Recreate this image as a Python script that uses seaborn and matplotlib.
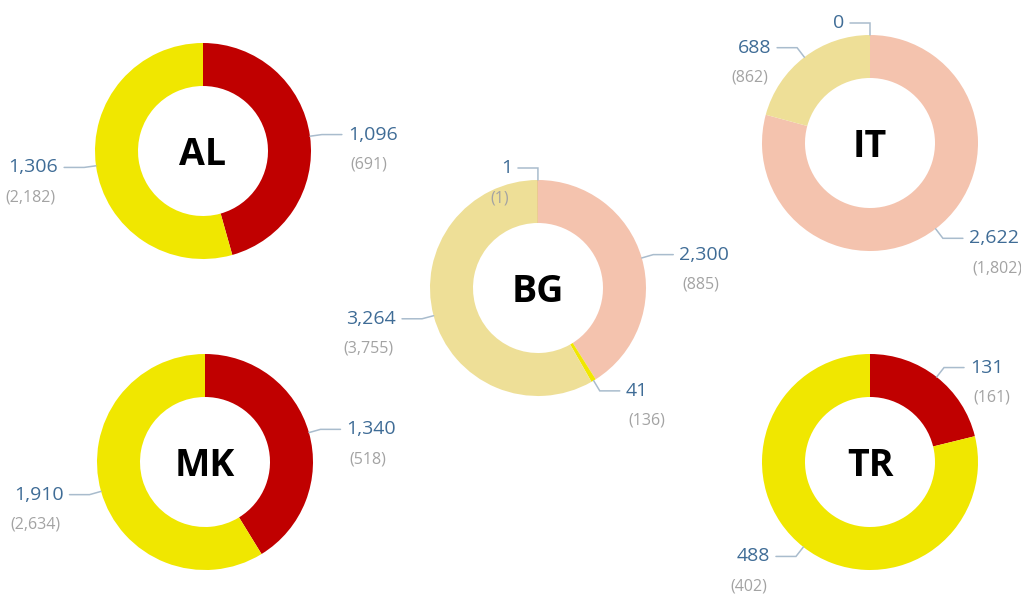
import numpy as np
import matplotlib
matplotlib.use("Agg")
import seaborn as sns
from matplotlib import pyplot as plt

# data: current value and (previous value) per slice,
# slices listed clockwise from 12 o'clock
countries = ["AL", "MK", "BG", "IT", "TR"]
al_values = [1096, 1306]
al_previous = [691, 2182]
mk_values = [1340, 1910]
mk_previous = [518, 2634]
bg_values = [2300, 41, 3264, 1]
bg_previous = [885, 136, 3755, 1]
it_values = [2622, 688, 0]
it_previous = [1802, 862, None]
tr_values = [131, 488]
tr_previous = [161, 402]

# colours
red = "#C00000"
yellow = "#F0E700"
pink = "#F4C3AE"
khaki = "#EEDF97"
value_col = "#3F6C96"
prev_col = "#A3A3A3"
line_col = "#A9BCCD"

donuts = {
    "AL": (al_values, al_previous, [red, yellow]),
    "MK": (mk_values, mk_previous, [red, yellow]),
    "BG": (bg_values, bg_previous, [pink, yellow, khaki, red]),
    "IT": (it_values, it_previous, [pink, khaki, red]),
    "TR": (tr_values, tr_previous, [red, yellow]),
}

# where each donut sits, in pixels from the top-left corner
W, H = 1021, 594
centers = {"AL": (203, 151), "MK": (205, 462), "BG": (538, 288),
           "IT": (870, 143), "TR": (870, 462)}
R = 108
RING = 43

sns.set_theme(style="white")
plt.rcParams["font.family"] = ["Open Sans", "DejaVu Sans"]

fig = plt.figure(figsize=(W / 100, H / 100), dpi=100)
ax = fig.add_axes([0, 0, 1, 1])

for name in countries:
    values, previous, cols = donuts[name]
    px, py = centers[name]
    cx, cy = px, H - py
    wedges, _ = ax.pie(values, colors=cols, startangle=90, counterclock=False,
                       center=(cx, cy), radius=R, normalize=True,
                       wedgeprops=dict(width=RING, edgecolor="none"))
    ax.text(cx, cy - 4, name, ha="center", va="center", fontsize=27,
            fontweight="bold", color="black")

    # leader lines + labels
    for w, v, p in zip(wedges, values, previous):
        mid = np.deg2rad((w.theta1 + w.theta2) / 2)
        dx, dy = np.cos(mid), np.sin(mid)
        ax0, ay0 = cx + R * dx, cy + R * dy
        ex, ey = cx + (R + 12) * dx, cy + (R + 12) * dy
        side = 1 if dx > 0.01 else -1
        hx = ex + side * 20
        ax.plot([ax0, ex, hx], [ay0, ey, ey], color=line_col, lw=1.1,
                solid_joinstyle="miter")
        tx = hx + side * 6
        ha = "left" if side > 0 else "right"
        ax.text(tx, ey, f"{v:,}", ha=ha, va="center", fontsize=14,
                color=value_col)
        if p is not None:
            ax.text(tx + side * 3, ey - 30, f"({p:,})", ha=ha, va="center",
                    fontsize=11.5, color=prev_col)

# pie() resets the limits, so set them at the end
ax.set_xlim(0, W)
ax.set_ylim(0, H)
ax.set_aspect("equal")
ax.axis("off")

fig.savefig("out.png", dpi=100)
